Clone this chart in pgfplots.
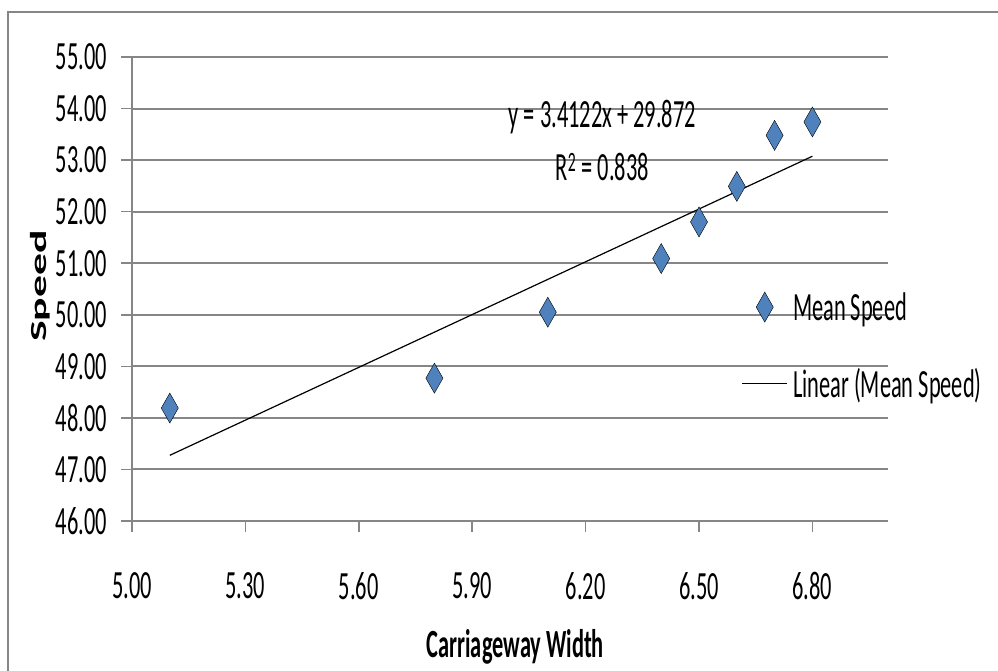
\documentclass[border=0pt]{standalone}
\usepackage{fontspec}
\setmainfont{Carlito}[FakeStretch=0.56]
\newfontfamily\ylabfont{Carlito}[FakeStretch=1.9]
\usepackage{pgfplots}
\pgfplotsset{compat=1.18}
\definecolor{gridgray}{RGB}{134,134,134}
\definecolor{markblue}{RGB}{79,129,189}
\newcommand{\bigfont}{\fontsize{40bp}{44bp}\selectfont}
\begin{document}
\begin{tikzpicture}[x=1bp,y=1bp]
\path[use as bounding box] (0,0) rectangle (998,671);
\draw[gridgray, line width=1.5bp] (8,0) -- (8,659) -- (998,659);
\begin{axis}[
  at={(132bp,150bp)}, anchor=south west,
  scale only axis, width=756bp, height=464bp,
  xmin=5, xmax=7, ymin=46, ymax=55,
  xtick={5,5.3,5.6,5.9,6.2,6.5,6.8},
  ytick={46,47,48,49,50,51,52,53,54,55},
  axis x line=bottom, axis y line=left,
  axis line style={-, gridgray, line width=2bp},
  ymajorgrids, grid style={gridgray, line width=2bp},
  tick align=outside, major tick length=11bp,
  tick style={gridgray, line width=1.5bp},
  /pgf/number format/.cd, fixed, fixed zerofill, precision=2, assume math mode=true,
  /pgfplots/.cd,
  ticklabel style={font=\bigfont, text=black, inner sep=0pt},
  xticklabel style={anchor=center, yshift=-54bp},
  yticklabel style={anchor=east, xshift=-14bp},
  xlabel={\bfseries Carriageway Width},
  xlabel style={at={(axis description cs:0.507,-0.2716)}, anchor=center, font=\bigfont},
  ylabel={\ylabfont\bfseries\fontsize{23bp}{26bp}\selectfont Speed},
  ylabel style={at={(axis description cs:-0.1217,0.506)}, anchor=center},
  legend style={at={(axis description cs:0.802,0.498)}, anchor=north west,
    draw=none, fill=none, font=\bigfont,
    nodes={inner sep=0pt, anchor=west}, row sep=46bp, column sep=5bp},
  legend cell align=left,
]
\addplot[only marks, mark=diamond*, mark size=15bp,
  mark options={xscale=0.76, fill=markblue, draw=none},
  legend image code/.code={\draw[only marks, mark=diamond*, mark size=15bp, mark options={xscale=0.76, fill=markblue, draw=none}] plot coordinates {(22.5bp,0bp)};}]
  coordinates {(5.10,48.19) (5.80,48.77) (6.10,50.05) (6.40,51.09) (6.50,51.80) (6.60,52.49) (6.70,53.48) (6.80,53.74)};
\addlegendentry{Mean Speed}
\addplot[black, line width=1.2bp,
  legend image code/.code={\draw[black, line width=1.5bp] (0bp,0bp) -- (45bp,0bp);}]
  coordinates {(5.1,47.274) (6.8,53.075)};
\addlegendentry{Linear (Mean Speed)}
\node[font=\bigfont, inner sep=0pt] at (axis cs:6.244,53.84) {y = 3.4122x + 29.872};
\node[font=\bigfont, inner sep=0pt] at (axis cs:6.244,52.87) {R\textsuperscript{2} = 0.838};
\end{axis}
\end{tikzpicture}
\end{document}
